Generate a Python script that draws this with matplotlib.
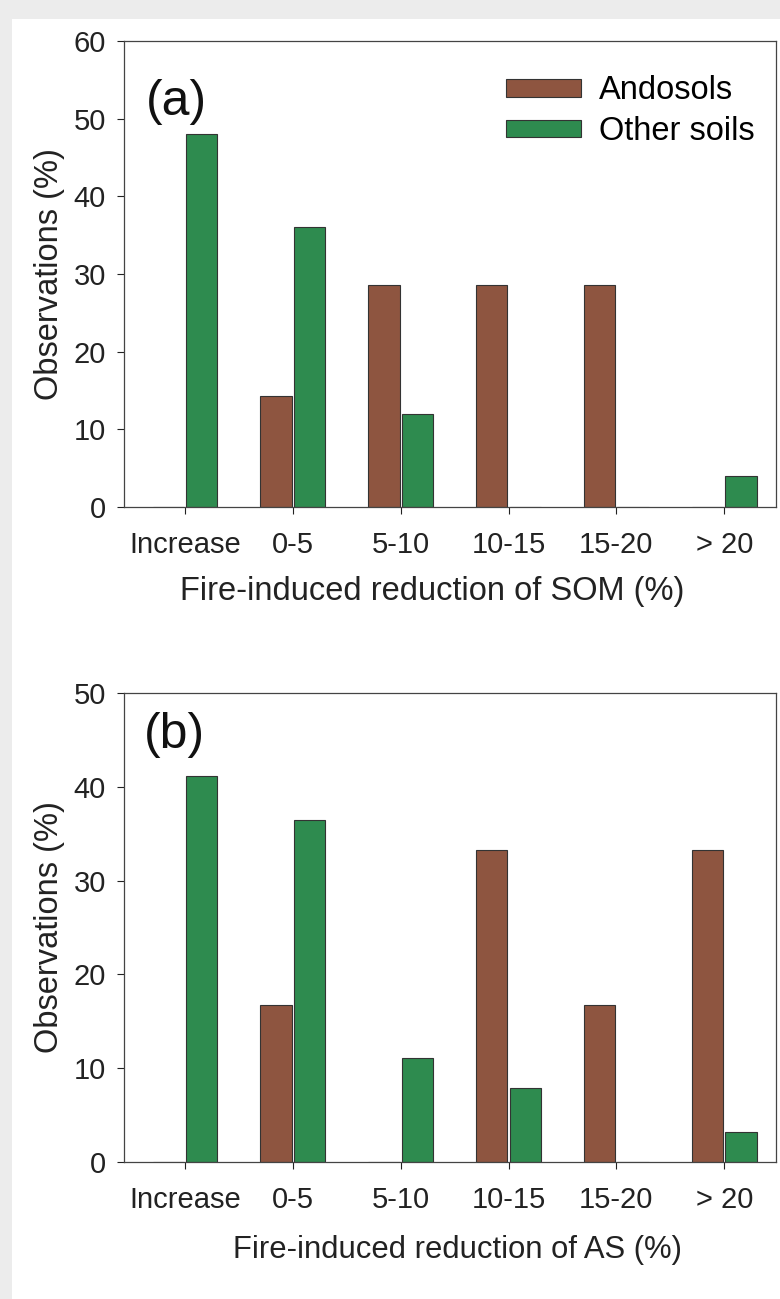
import matplotlib
matplotlib.use("Agg")
import matplotlib.pyplot as plt
from matplotlib.patches import Rectangle, Patch
import numpy as np

plt.rcParams['font.family'] = ['Liberation Sans', 'DejaVu Sans']

categories = ["Increase", "0-5", "5-10", "10-15", "15-20", "> 20"]
som_andosols = [0, 14.3, 28.6, 28.6, 28.6, 0]
som_other = [48, 36, 12, 0, 0, 4]
as_andosols = [0, 16.7, 0, 33.3, 16.7, 33.3]
as_other = [41.2, 36.5, 11.1, 7.9, 0, 3.2]

brown = "#8e5540"
green = "#2e8b4f"
edge = "#333333"

W, H = 780, 1299
fig = plt.figure(figsize=(W / 100, H / 100), dpi=100)
fig.patch.set_facecolor("white")
# light gray frame bands (top and left)
fig.patches.append(Rectangle((0, 1 - 19 / H), 1, 19 / H, transform=fig.transFigure,
                             facecolor="#ececec", edgecolor="none", zorder=0))
fig.patches.append(Rectangle((0, 0), 12 / W, 1, transform=fig.transFigure,
                             facecolor="#ececec", edgecolor="none", zorder=0))

ax_a = fig.add_axes([124 / W, 792 / H, 652 / W, 466 / H])
ax_b = fig.add_axes([124 / W, 137 / H, 652 / W, 469 / H])

x = np.arange(len(categories))
fs_tick = 21
fs_lab = 23.5


def draw(ax, andos, other, ymax, xlabel, xlab_fs, xlab_xy, tag, tag_xy, legend=False):
    ax.bar(x - 0.30, andos, width=0.29, align="edge", color=brown,
           edgecolor=edge, linewidth=0.8, label="Andosols", zorder=2)
    ax.bar(x + 0.01, other, width=0.29, align="edge", color=green,
           edgecolor=edge, linewidth=0.8, label="Other soils", zorder=2)
    ax.set_xlim(-0.565, 5.48)
    ax.set_ylim(0, ymax)
    ax.set_yticks(np.arange(0, ymax + 1, 10))
    ax.set_xticks(x)
    ax.set_xticklabels(categories)
    ax.tick_params(axis="both", direction="out", length=5, width=0.8,
                   labelsize=fs_tick, colors="#222222", pad=8)
    ax.tick_params(axis="x", pad=12)
    for s in ax.spines.values():
        s.set_linewidth(0.9)
        s.set_color("#444444")
    # x-axis title placed explicitly (slightly off-centre as in the reference)
    ax.text(xlab_xy[0], xlab_xy[1], xlabel, transform=ax.transAxes,
            fontsize=xlab_fs, color="#222222", ha="center", va="center")
    ax.set_ylabel("Observations (%)", fontsize=fs_lab, color="#222222", labelpad=6)
    ax.text(tag_xy[0], tag_xy[1], tag, transform=ax.transAxes, fontsize=36,
            va="top", ha="left", color="#111111")
    if legend:
        handles = [Patch(facecolor=brown, edgecolor=edge, linewidth=0.8),
                   Patch(facecolor=green, edgecolor=edge, linewidth=0.8)]
        ax.legend(handles, ["Andosols", "Other soils"], loc="upper right",
                  bbox_to_anchor=(1.002, 0.975), frameon=False, fontsize=fs_lab,
                  handlelength=2.3, handleheight=0.45, handletextpad=0.55,
                  labelspacing=0.3, borderaxespad=0.3)


draw(ax_a, som_andosols, som_other, 60, "Fire-induced reduction of SOM (%)", fs_lab,
     (0.472, -0.182), "(a)", (0.033, 0.918), legend=True)
draw(ax_b, as_andosols, as_other, 50, "Fire-induced reduction of AS (%)", 22.3,
     (0.511, -0.188), "(b)", (0.03, 0.96))

fig.savefig("out.png", dpi=100)
